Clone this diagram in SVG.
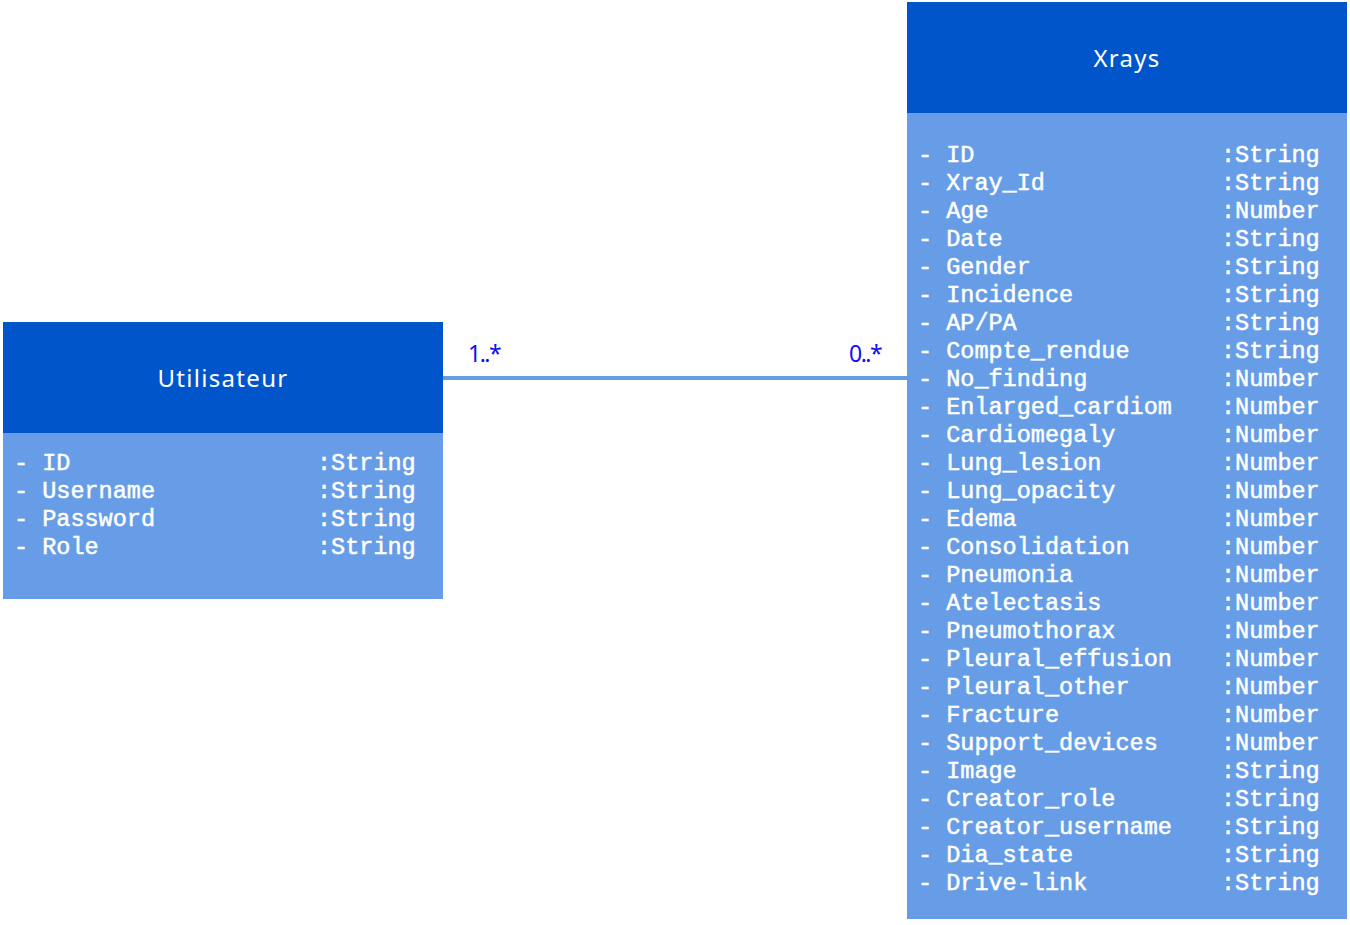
<svg xmlns="http://www.w3.org/2000/svg" width="1350" height="925" viewBox="0 0 1350 925">
<style>
.hdr{fill:#0055CB}
.bdy{fill:#679DE7}
.title{font-family:"Noto Sans",Lato,sans-serif;font-size:24px;letter-spacing:1.3px;fill:#fff;text-anchor:middle}
.attr{font-family:"Liberation Mono","DejaVu Sans Mono",monospace;font-size:23.5px;fill:#fff;stroke:#fff;stroke-width:0.5px}
.mult{font-family:"Noto Sans",Lato,sans-serif;font-size:23px;letter-spacing:-1.5px;fill:#0F10EE}
</style>
<rect width="1350" height="925" fill="#fff"/>
<g id="connectors">
<line x1="443" y1="378" x2="907" y2="378" stroke="#679DE7" stroke-width="4"/>
<text class="mult" x="468" y="362">1..*</text>
<text class="mult" x="849" y="362">0..*</text>
</g>
<g id="utilisateur">
<rect class="hdr" x="3" y="322" width="440" height="111"/>
<rect class="bdy" x="3" y="433" width="440" height="166"/>
<text class="title" x="223" y="387">Utilisateur</text>
<g class="attr">
<text x="14" y="470">- ID</text><text x="317" y="470">:String</text>
<text x="14" y="498">- Username</text><text x="317" y="498">:String</text>
<text x="14" y="526">- Password</text><text x="317" y="526">:String</text>
<text x="14" y="554">- Role</text><text x="317" y="554">:String</text>
</g>
</g>
<g id="xrays">
<rect class="hdr" x="907" y="2" width="440" height="111"/>
<rect class="bdy" x="907" y="113" width="440" height="806"/>
<text class="title" x="1127" y="67">Xrays</text>
<g class="attr">
<text x="918" y="162">- ID</text><text x="1221" y="162">:String</text>
<text x="918" y="190">- Xray_Id</text><text x="1221" y="190">:String</text>
<text x="918" y="218">- Age</text><text x="1221" y="218">:Number</text>
<text x="918" y="246">- Date</text><text x="1221" y="246">:String</text>
<text x="918" y="274">- Gender</text><text x="1221" y="274">:String</text>
<text x="918" y="302">- Incidence</text><text x="1221" y="302">:String</text>
<text x="918" y="330">- AP/PA</text><text x="1221" y="330">:String</text>
<text x="918" y="358">- Compte_rendue</text><text x="1221" y="358">:String</text>
<text x="918" y="386">- No_finding</text><text x="1221" y="386">:Number</text>
<text x="918" y="414">- Enlarged_cardiom</text><text x="1221" y="414">:Number</text>
<text x="918" y="442">- Cardiomegaly</text><text x="1221" y="442">:Number</text>
<text x="918" y="470">- Lung_lesion</text><text x="1221" y="470">:Number</text>
<text x="918" y="498">- Lung_opacity</text><text x="1221" y="498">:Number</text>
<text x="918" y="526">- Edema</text><text x="1221" y="526">:Number</text>
<text x="918" y="554">- Consolidation</text><text x="1221" y="554">:Number</text>
<text x="918" y="582">- Pneumonia</text><text x="1221" y="582">:Number</text>
<text x="918" y="610">- Atelectasis</text><text x="1221" y="610">:Number</text>
<text x="918" y="638">- Pneumothorax</text><text x="1221" y="638">:Number</text>
<text x="918" y="666">- Pleural_effusion</text><text x="1221" y="666">:Number</text>
<text x="918" y="694">- Pleural_other</text><text x="1221" y="694">:Number</text>
<text x="918" y="722">- Fracture</text><text x="1221" y="722">:Number</text>
<text x="918" y="750">- Support_devices</text><text x="1221" y="750">:Number</text>
<text x="918" y="778">- Image</text><text x="1221" y="778">:String</text>
<text x="918" y="806">- Creator_role</text><text x="1221" y="806">:String</text>
<text x="918" y="834">- Creator_username</text><text x="1221" y="834">:String</text>
<text x="918" y="862">- Dia_state</text><text x="1221" y="862">:String</text>
<text x="918" y="890">- Drive-link</text><text x="1221" y="890">:String</text>
</g>
</g>
</svg>
